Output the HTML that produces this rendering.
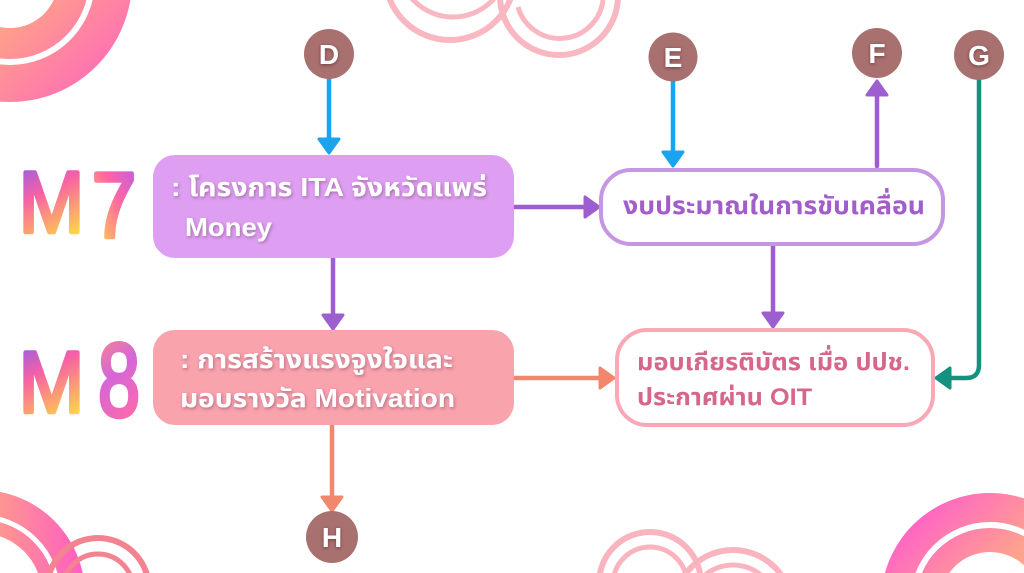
<!DOCTYPE html>
<html>
<head>
<meta charset="utf-8">
<style>
html,body{margin:0;padding:0;background:#fff;width:1024px;height:573px;overflow:hidden;}
svg{display:block;overflow:hidden;}
.t{font-family:"Liberation Sans","Noto Sans Thai","Noto Sans Thai UI","Loma","Garuda","Noto Sans CJK SC",sans-serif;font-weight:bold;}
.big{font-family:"Liberation Sans",sans-serif;font-weight:normal;}
</style>
</head>
<body>
<svg width="1024" height="573" viewBox="0 0 1024 573" xmlns="http://www.w3.org/2000/svg">
<defs>
  <clipPath id="frame"><rect x="0" y="0" width="1024" height="573"/></clipPath>
  <linearGradient id="dTL" x1="0" y1="0" x2="1" y2="1">
    <stop offset="0.35" stop-color="#fdc46a"/>
    <stop offset="1" stop-color="#ff5ec4"/>
  </linearGradient>
  <linearGradient id="dBL" x1="0" y1="0" x2="1" y2="0">
    <stop offset="0.3" stop-color="#fdc06b"/>
    <stop offset="1" stop-color="#ff5cc4"/>
  </linearGradient>
  <linearGradient id="dBR" x1="0" y1="0" x2="1" y2="1">
    <stop offset="0.1" stop-color="#ff5ecb"/>
    <stop offset="0.7" stop-color="#ffd262"/>
  </linearGradient>
  <linearGradient id="gM" x1="0" y1="0" x2="0.35" y2="1">
    <stop offset="0" stop-color="#7a5ef7"/>
    <stop offset="0.45" stop-color="#f760a6"/>
    <stop offset="1" stop-color="#ffd447"/>
  </linearGradient>
  <linearGradient id="g7" x1="1" y1="0" x2="0.2" y2="1">
    <stop offset="0" stop-color="#b05ef0"/>
    <stop offset="0.45" stop-color="#ff64a4"/>
    <stop offset="1" stop-color="#ffd84a"/>
  </linearGradient>
  <linearGradient id="g8" x1="0" y1="0" x2="0.3" y2="1">
    <stop offset="0" stop-color="#ff907a"/>
    <stop offset="0.5" stop-color="#d466d8"/>
    <stop offset="1" stop-color="#ff6aa8"/>
  </linearGradient>
  <filter id="sh" x="-10%" y="-30%" width="120%" height="160%">
    <feDropShadow dx="1" dy="1.5" stdDeviation="1.5" flood-color="#5a2a4a" flood-opacity="0.45"/>
  </filter>
  <filter id="sh2" x="-30%" y="-30%" width="160%" height="160%">
    <feDropShadow dx="0" dy="1" stdDeviation="1.5" flood-color="#4a1f1f" flood-opacity="0.6"/>
  </filter>
</defs>

<g clip-path="url(#frame)">
<!-- decorative donuts -->
<g>
  <circle cx="10" cy="-20" r="122" fill="url(#dTL)"/>
  <circle cx="10" cy="-20" r="82" fill="none" stroke="#fff" stroke-width="6"/>
  <circle cx="10" cy="-20" r="48" fill="#fff"/>
</g>
<g>
  <circle cx="-20" cy="595" r="105" fill="url(#dBL)"/>
  <circle cx="-20" cy="595" r="78" fill="none" stroke="#fff" stroke-width="5"/>
  <circle cx="-20" cy="595" r="62" fill="#fff"/>
</g>
<g>
  <circle cx="990" cy="602" r="109" fill="url(#dBR)"/>
  <circle cx="990" cy="602" r="77" fill="none" stroke="#fff" stroke-width="6"/>
  <circle cx="990" cy="602" r="50" fill="#fff"/>
</g>

<!-- pink arcs -->
<g fill="none" stroke="#f9b7c1" stroke-width="6">
  <circle cx="450" cy="-25" r="65"/>
  <circle cx="453" cy="-38" r="55" stroke-width="5"/>
  <circle cx="559" cy="-4" r="59"/>
  <path d="M518,7 A43.5,43.5 0 0 0 603,0" stroke-width="5"/>
</g>
<g fill="none" stroke="#f9b4bf" stroke-width="6">
  <circle cx="650" cy="583" r="51"/>
  <circle cx="650" cy="584" r="37" stroke-width="5"/>
  <circle cx="733" cy="609" r="59"/>
  <circle cx="733" cy="609" r="44" stroke-width="5"/>
</g>
<g fill="none" stroke="#f3838f" stroke-width="6">
  <circle cx="98" cy="589" r="51"/>
  <circle cx="98" cy="589" r="35" stroke-width="5"/>
</g>
</g>

<!-- M7 / M8 labels -->
<g class="big" stroke-width="4.5" stroke-linejoin="round" stroke-linecap="round">
  <text x="19" y="232" font-size="86" fill="url(#gM)" stroke="url(#gM)" textLength="65" lengthAdjust="spacingAndGlyphs">M</text>
  <text x="92" y="237" font-size="92" fill="url(#g7)" stroke="url(#g7)" textLength="44" lengthAdjust="spacingAndGlyphs">7</text>
  <text x="19" y="412" font-size="86" fill="url(#gM)" stroke="url(#gM)" textLength="65" lengthAdjust="spacingAndGlyphs">M</text>
  <text x="98" y="416" font-size="104" fill="url(#g8)" stroke="url(#g8)" textLength="42" lengthAdjust="spacingAndGlyphs">8</text>
</g>

<!-- connectors -->
<g stroke-width="4.5" fill="none" stroke-linecap="round">
  <line x1="329" y1="78" x2="329" y2="140" stroke="#1aa3ef"/>
  <line x1="673" y1="80" x2="673" y2="153" stroke="#1aa3ef"/>
  <line x1="877" y1="166" x2="877" y2="94" stroke="#9d5fcf"/>
  <path d="M979,80 V365 Q979,378 966,378 H950" stroke="#12927f"/>
  <line x1="514" y1="207" x2="586" y2="207" stroke="#9d5fcf"/>
  <line x1="333" y1="258" x2="333" y2="316" stroke="#9d5fcf"/>
  <line x1="773" y1="246" x2="773" y2="314" stroke="#9d5fcf"/>
  <line x1="514" y1="378" x2="601" y2="378" stroke="#f2876e"/>
  <line x1="332" y1="425" x2="332" y2="498" stroke="#f2876e"/>
</g>
<g stroke-width="3" stroke-linejoin="round">
  <polygon points="319,139 339,139 329,153" fill="#1aa3ef" stroke="#1aa3ef"/>
  <polygon points="663,152 683,152 673,166" fill="#1aa3ef" stroke="#1aa3ef"/>
  <polygon points="867,95 887,95 877,81" fill="#9d5fcf" stroke="#9d5fcf"/>
  <polygon points="950,368 950,388 936,378" fill="#12927f" stroke="#12927f"/>
  <polygon points="585,197 585,217 599,207" fill="#9d5fcf" stroke="#9d5fcf"/>
  <polygon points="323,315 343,315 333,329" fill="#9d5fcf" stroke="#9d5fcf"/>
  <polygon points="763,313 783,313 773,327" fill="#9d5fcf" stroke="#9d5fcf"/>
  <polygon points="600,368 600,388 614,378" fill="#f2876e" stroke="#f2876e"/>
  <polygon points="322,497 342,497 332,511" fill="#f2876e" stroke="#f2876e"/>
</g>

<!-- boxes -->
<rect x="153" y="155" width="361" height="103" rx="22" fill="#de9ff2"/>
<rect x="153" y="330" width="361" height="95" rx="22" fill="#f9a3ad"/>
<rect x="601" y="170" width="342" height="74" rx="30" fill="#fff" stroke="#c597e2" stroke-width="4"/>
<rect x="617" y="330" width="316" height="95" rx="30" fill="#fff" stroke="#f8a9b5" stroke-width="4"/>

<!-- box text -->
<g class="t" fill="#fff" filter="url(#sh)" font-size="26">
  <text x="171" y="196" textLength="316" lengthAdjust="spacingAndGlyphs">: โครงการ ITA จังหวัดแพร่</text>
  <text x="185" y="236" textLength="87" lengthAdjust="spacingAndGlyphs">Money</text>
  <text x="180" y="368" textLength="273" lengthAdjust="spacingAndGlyphs">: การสร้างแรงจูงใจและ</text>
  <text x="180" y="407" textLength="275" lengthAdjust="spacingAndGlyphs">มอบรางวัล Motivation</text>
</g>
<text class="t" x="623" y="214" font-size="25" fill="#a35dca" textLength="302" lengthAdjust="spacingAndGlyphs">งบประมาณในการขับเคลื่อน</text>
<text class="t" x="637" y="370" font-size="24" fill="#d6668b" textLength="273" lengthAdjust="spacingAndGlyphs">มอบเกียรติบัตร เมื่อ ปปช.</text>
<text class="t" x="637" y="405" font-size="24" fill="#d6668b" textLength="175" lengthAdjust="spacingAndGlyphs">ประกาศผ่าน OIT</text>

<!-- letter circles -->
<g fill="#a8706f">
  <circle cx="329" cy="54" r="25"/>
  <circle cx="673" cy="57" r="24.5"/>
  <circle cx="877" cy="53" r="25"/>
  <circle cx="979" cy="55" r="25"/>
  <circle cx="332" cy="537" r="26"/>
</g>
<g class="t" fill="#fff" font-size="28" text-anchor="middle" filter="url(#sh2)">
  <text x="329" y="64">D</text>
  <text x="673" y="67">E</text>
  <text x="877" y="63">F</text>
  <text x="979" y="65">G</text>
  <text x="332" y="547">H</text>
</g>
</svg>
</body>
</html>
